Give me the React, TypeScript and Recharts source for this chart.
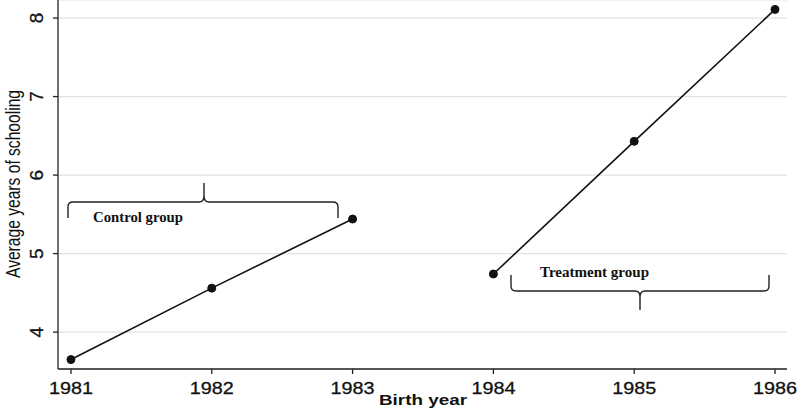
import React from "react";
import { LineChart, Line, XAxis, YAxis, CartesianGrid, Customized } from "recharts";

const years = [1981, 1982, 1983, 1984, 1985, 1986];
const controlValues = [3.65, 4.56, 5.44, null, null, null];
const treatmentValues = [null, null, null, 4.74, 6.43, 8.11];
const yTicks = [4, 5, 6, 7, 8];

const data = years.map((year, i) => ({
  year,
  control: controlValues[i],
  treatment: treatmentValues[i],
}));

const W = 797;
const H = 410;
const SANS = "Liberation Sans, Arial, sans-serif";
const SERIF = "Liberation Serif, Times New Roman, serif";

function YTick(props: any) {
  const { x, y, payload } = props;
  return (
    <text
      x={x - 8}
      y={y}
      transform={`rotate(-90 ${x - 8} ${y})`}
      textAnchor="middle"
      fontSize={19}
      fontFamily={SANS}
      stroke="#111"
      strokeWidth={0.3}
      fill="#111"
    >
      {payload.value}
    </text>
  );
}

function XTick(props: any) {
  const { x, y, payload } = props;
  return (
    <text
      x={x - 22}
      y={y + 18}
      textLength={44}
      lengthAdjust="spacingAndGlyphs"
      fontSize={17}
      fontFamily={SANS}
      stroke="#111"
      strokeWidth={0.3}
      fill="#111"
    >
      {payload.value}
    </text>
  );
}

function YLabel() {
  return (
    <text
      x={20}
      y={184}
      transform="rotate(-90 20 184)"
      textAnchor="middle"
      textLength={188}
      lengthAdjust="spacingAndGlyphs"
      fontSize={20}
      fontFamily={SANS}
      fill="#111"
    >
      Average years of schooling
    </text>
  );
}

function XLabel() {
  return (
    <text
      x={379}
      y={405}
      textLength={88}
      lengthAdjust="spacingAndGlyphs"
      fontSize={15}
      fontWeight="bold"
      fontFamily={SANS}
      fill="#111"
    >
      Birth year
    </text>
  );
}

// curly braces marking the two cohorts
function Braces() {
  return (
    <g fill="none" stroke="#222" strokeWidth={1.4}>
      <path d="M68 218 L68 207 Q68 202 73 202 L199 202 Q204 202 204 196 L204 183 M204 196 Q204 202 209 202 L333 202 Q338 202 338 207 L338 218" />
      <path d="M511 275 L511 286 Q511 291 516 291 L635 291 Q640 291 640 297 L640 310 M640 297 Q640 291 645 291 L764 291 Q769 291 769 286 L769 275" />
      <text x={93} y={222} textLength={90} lengthAdjust="spacingAndGlyphs" stroke="none" fill="#111" fontFamily={SERIF} fontWeight="bold" fontSize={14}>
        Control group
      </text>
      <text x={540} y={277} textLength={109} lengthAdjust="spacingAndGlyphs" stroke="none" fill="#111" fontFamily={SERIF} fontWeight="bold" fontSize={14}>
        Treatment group
      </text>
    </g>
  );
}

export default function App() {
  return (
    <div style={{ position: "absolute", left: 0, top: 0, width: W, height: H, background: "#fff" }}>
      <LineChart width={W} height={H} data={data} margin={{ top: 0, right: 10, bottom: 0, left: 0 }}>
        <CartesianGrid horizontal vertical={false} stroke="#e2e2e2" strokeWidth={1.2} />
        <XAxis
          dataKey="year"
          type="number"
          domain={[1980.908, 1986.085]}
          ticks={years}
          height={41}
          stroke="#222"
          strokeWidth={1.3}
          tickSize={5}
          tick={<XTick />}
          label={<XLabel />}
        />
        <YAxis
          type="number"
          domain={[3.53, 8.23]}
          ticks={yTicks}
          width={58}
          stroke="#222"
          strokeWidth={1.3}
          tickSize={5}
          tick={<YTick />}
          label={<YLabel />}
        />
        <Line
          dataKey="control"
          stroke="#111"
          strokeWidth={1.6}
          dot={{ r: 4, fill: "#111", stroke: "#111", strokeWidth: 1 }}
          isAnimationActive={false}
          connectNulls={false}
        />
        <Line
          dataKey="treatment"
          stroke="#111"
          strokeWidth={1.6}
          dot={{ r: 4, fill: "#111", stroke: "#111", strokeWidth: 1 }}
          isAnimationActive={false}
          connectNulls={false}
        />
        <Customized component={<Braces />} />
      </LineChart>
    </div>
  );
}
